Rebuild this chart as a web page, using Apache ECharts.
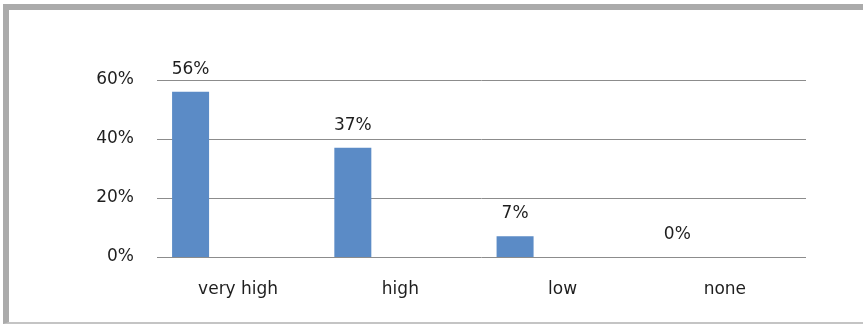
<!DOCTYPE html>
<html>
<head>
<meta charset="utf-8">
<script src="https://cdn.jsdelivr.net/npm/echarts@6/dist/echarts.min.js"></script>
<style>
  html, body { margin: 0; padding: 0; background: #fff; }
  #frame { position: absolute; left: 3px; top: 4px; width: 900px; height: 312px;
           border-left: 6px solid #ababab; border-top: 6px solid #ababab; border-bottom: 2px solid #c4c4c4; }
  #chart { position: absolute; left: 0; top: 0; width: 863px; height: 325px; }
</style>
</head>
<body>
<div id="frame"></div>
<div id="chart"></div>
<script>
const categories = ['very high', 'high', 'low', 'none'];
const values = [56, 37, 7, 0];
const emptySeries = [null, null, null, null];
const yTicks = { min: 0, max: 60, interval: 20 };

const textColor = '#1e1e1e';
const font = 'DejaVu Sans';

const chart = echarts.init(document.getElementById('chart'), null, { renderer: 'canvas' });
chart.setOption({
  backgroundColor: 'transparent',
  animation: false,
  grid: { left: 157, right: 57, top: 80, bottom: 68, containLabel: false },
  xAxis: {
    type: 'category',
    data: categories,
    axisLine: { show: false },
    axisTick: { show: false },
    axisLabel: { color: textColor, fontFamily: font, fontSize: 17, margin: 24 }
  },
  yAxis: {
    type: 'value',
    min: yTicks.min, max: yTicks.max, interval: yTicks.interval,
    axisLine: { show: false },
    axisTick: { show: false },
    splitLine: { lineStyle: { color: '#8c8c8c', width: 1 } },
    axisLabel: { color: textColor, fontFamily: font, fontSize: 17, margin: 23, formatter: '{value}%' }
  },
  series: [
    {
      type: 'bar',
      data: values,
      barWidth: 37,
      barGap: '157%',
      itemStyle: { color: '#5b8bc6' },
      label: { show: true, position: 'top', distance: 14, color: textColor,
               fontFamily: font, fontSize: 17, formatter: '{c}%' }
    },
    {
      type: 'bar',
      data: emptySeries,
      barWidth: 37,
      barGap: '157%',
      itemStyle: { color: '#c0504d' }
    }
  ]
});
</script>
</body>
</html>
